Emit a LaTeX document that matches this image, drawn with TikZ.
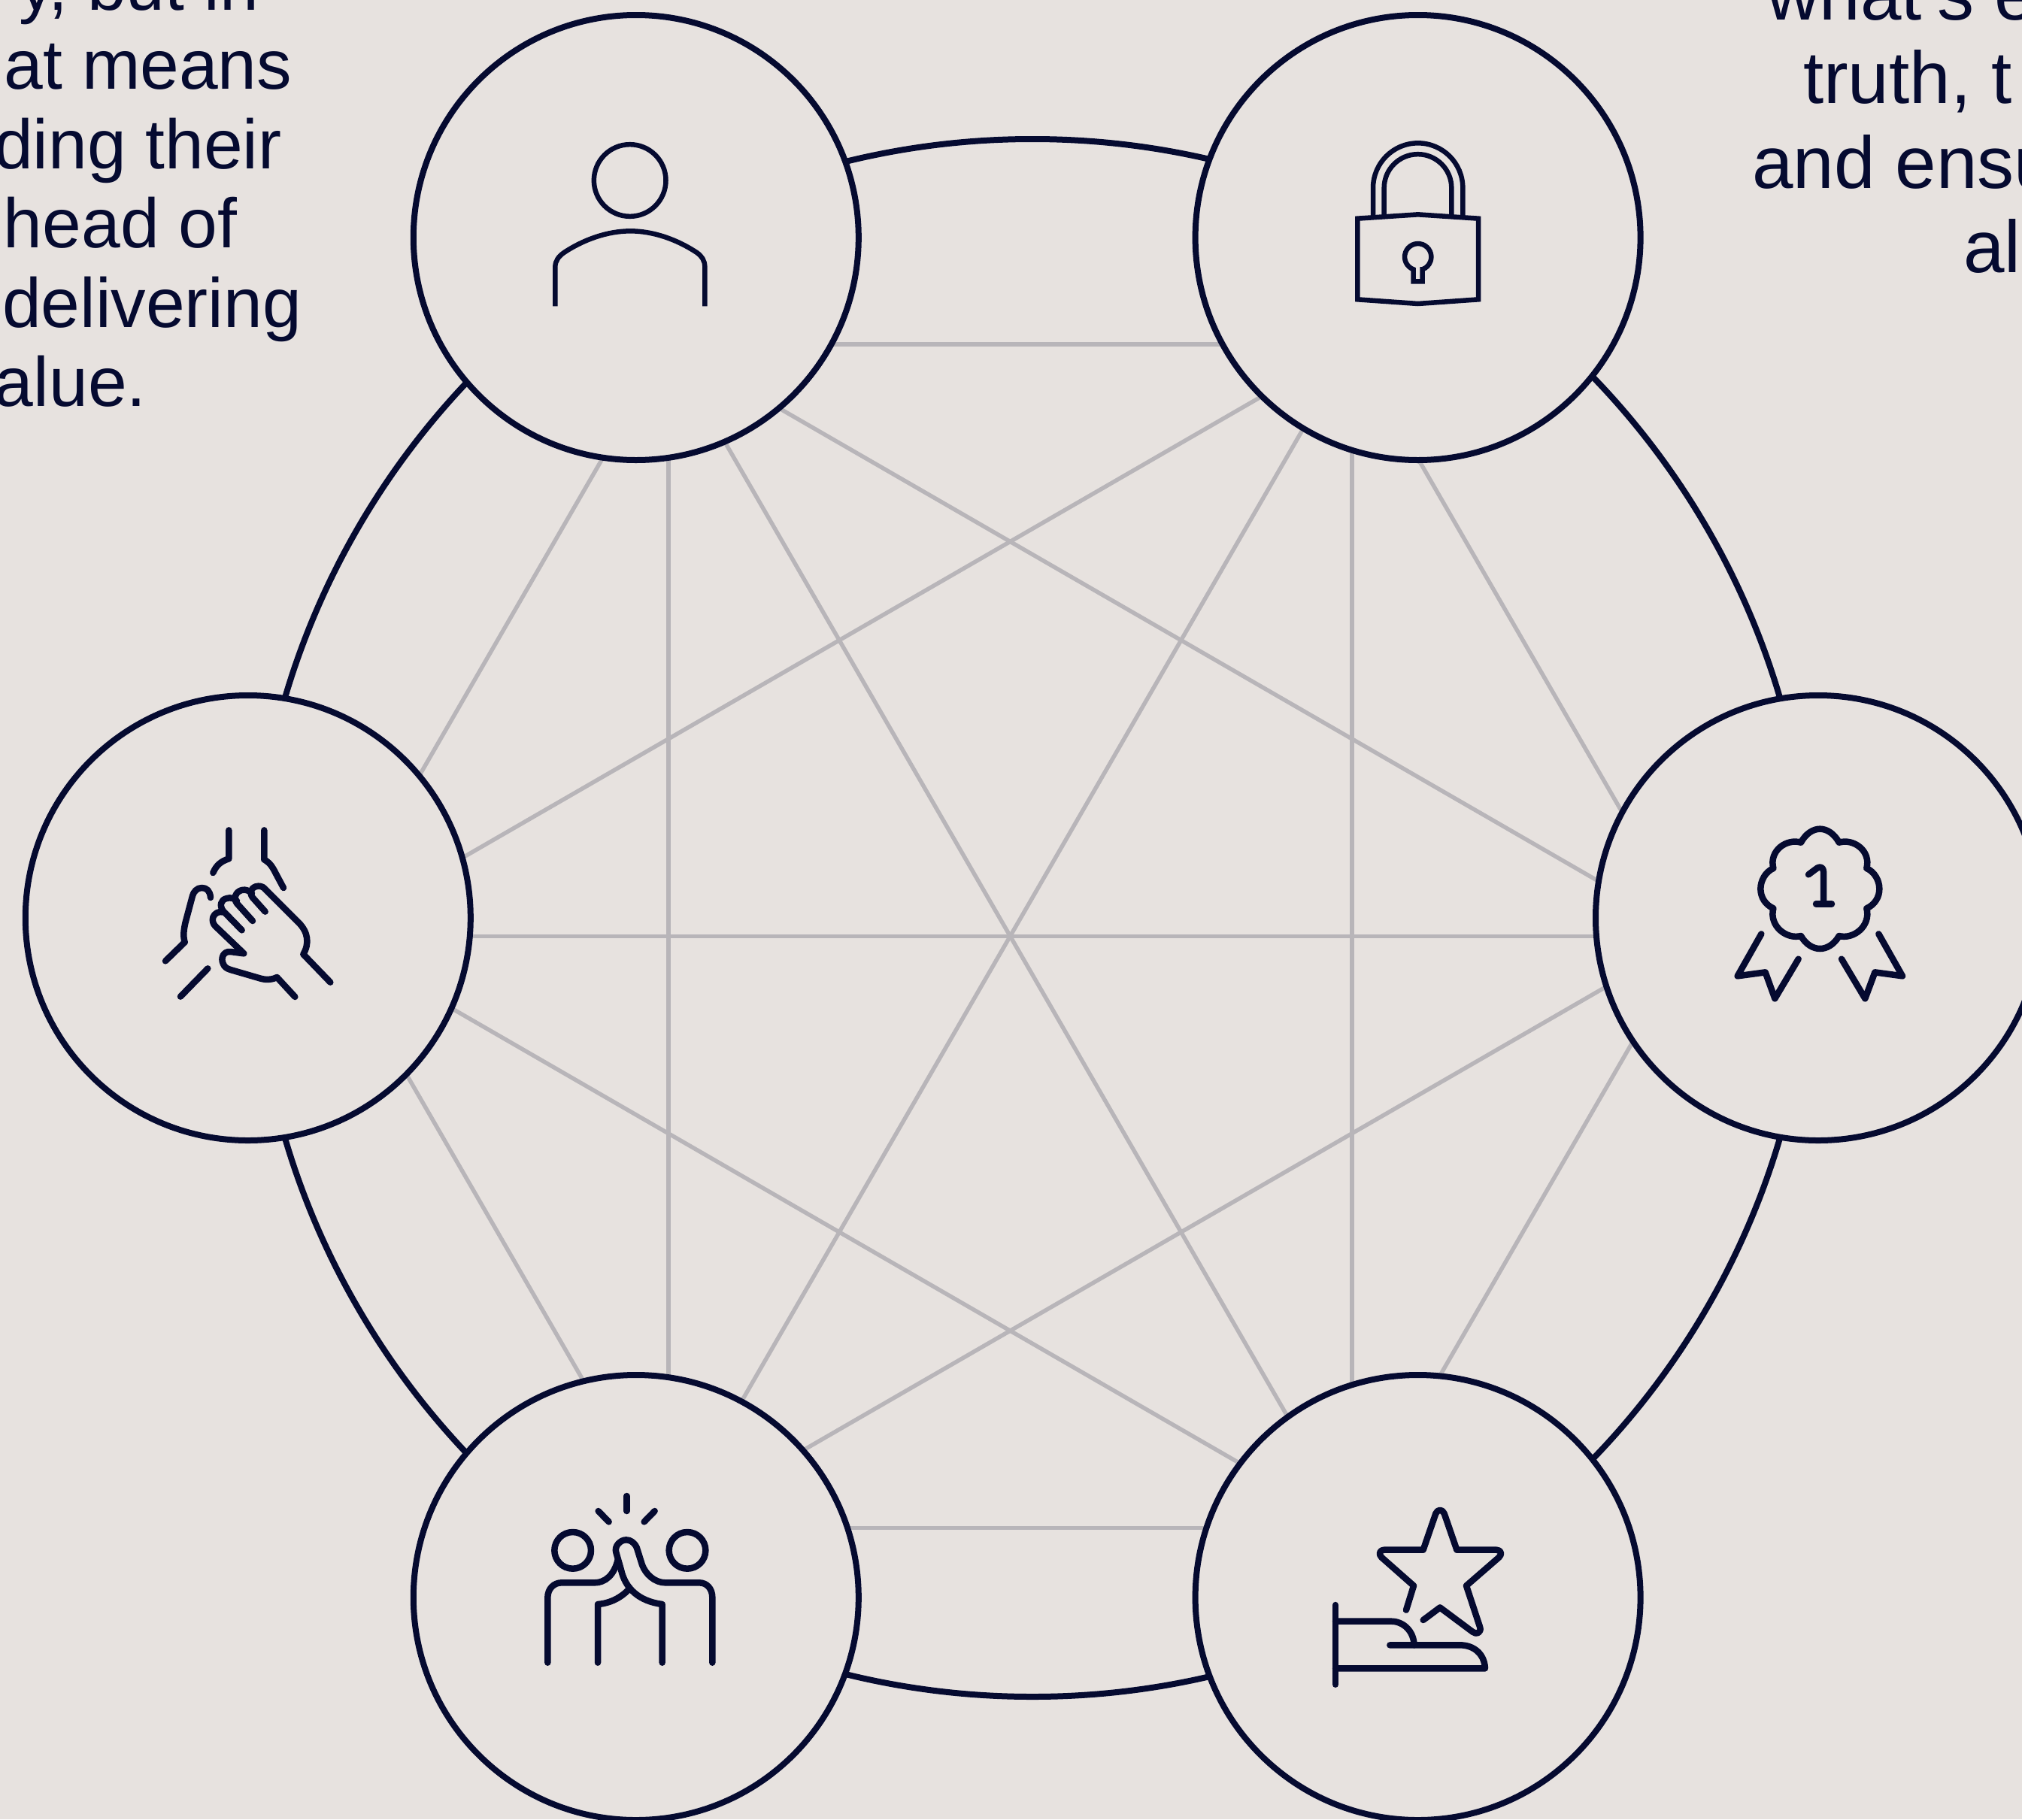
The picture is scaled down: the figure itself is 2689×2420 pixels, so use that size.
\documentclass[tikz,border=0pt]{standalone}
\usepackage{fontspec}
\usetikzlibrary{calc}
\setmainfont{Liberation Sans}
\definecolor{bgc}{HTML}{E7E2DF}
\definecolor{navy}{HTML}{050A30}
\definecolor{greyl}{HTML}{B8B5B9}
\tikzset{
  hub/.style={circle,draw=navy,fill=bgc,line width=8pt,minimum size=592pt,inner sep=0pt,outer sep=0pt},
  ringc/.style={circle,draw=navy,line width=8pt,minimum size=2072pt,inner sep=0pt,outer sep=0pt},
  link/.style={draw=greyl,line width=5.5pt},
  leftt/.style={anchor=base west,inner sep=0pt,outer sep=0pt,text=navy,font=\fontsize{93}{105}\selectfont},
  rightt/.style={anchor=base west,inner sep=0pt,outer sep=0pt,text=navy,font=\fontsize{98}{112}\selectfont},
  thin icon/.style={draw=navy,line width=6.5pt},
  bold icon/.style={draw=navy,line width=8.5pt,line cap=round,line join=round},
}
\begin{document}
\begin{tikzpicture}[x=1pt,y=-1pt]
\useasboundingbox (0,0) rectangle (2689,2420);
\fill[bgc] (0,0) rectangle (2689,2420);
\clip (0,0) rectangle (2689,2420);
% text
\node[leftt] (l1) at (25,13.5) {y, but in};
\node[leftt] (l2) at (-46,118.6) {hat means};
\node[leftt] (l3) at (-8,224) {ding their};
\node[leftt] (l4) at (5,329) {head of};
\node[leftt] (l5) at (3,435) {delivering};
\node[leftt] (l6) at (-7,540.7) {alue.};
\node[rightt] (r1) at (2349,26) {what's e};
\node[rightt] (r2) at (2398,137.5) {truth, t};
\node[rightt] (r3) at (2330,250) {and ensu};
\node[rightt] (r4) at (2611,362) {al};
% ring
\node[ringc] (ring) at (1373,1221) {};
% network
\coordinate (mid) at (1343.4,1245.3);
\coordinate (g1) at ($(mid)+(-454.5,-787.3)$);
\coordinate (g2) at ($(mid)+(454.5,-787.3)$);
\coordinate (g3) at ($(mid)+(909,0)$);
\coordinate (g4) at ($(mid)+(454.5,787.3)$);
\coordinate (g5) at ($(mid)+(-454.5,787.3)$);
\coordinate (g6) at ($(mid)+(-909,0)$);
\foreach \a/\b in {g1/g2,g1/g3,g1/g4,g1/g5,g1/g6,g2/g3,g2/g4,g2/g5,g2/g6,g3/g4,g3/g5,g3/g6,g4/g5,g4/g6,g5/g6}
  \draw[link] (\a) -- (\b);
% hubs
\node[hub] (tl) at (845.8,316) {};
\node[hub] (tr) at (1885.6,316) {};
\node[hub] (le) at (329.8,1221) {};
\node[hub] (ri) at (2418,1221) {};
\node[hub] (bl) at (845.8,2125) {};
\node[hub] (br) at (1885.6,2125) {};
% person
\begin{scope}[shift={(680,150)},scale=1/3]
\draw[thin icon] (473,270) circle[radius=143.5];
\draw[thin icon] (175,772) -- (175,615) .. controls (175,590) and (190,572) .. (210,558) .. controls (290,505) and (385,472) .. (475,472) .. controls (565,472) and (660,505) .. (740,558) .. controls (760,572) and (772,590) .. (772,615) -- (772,772);
\end{scope}
% lock
\begin{scope}[shift={(1760,160)},scale=1/3]
\draw[thin icon] (136,392) -- (377,376) -- (618,392) -- (618,715) -- (377,732) -- (136,715) -- cycle;
\draw[thin icon] (198,380) -- (198,270) arc[start angle=180,end angle=360,radius=179] -- (556,380);
\draw[thin icon] (242,378) -- (242,270) arc[start angle=180,end angle=360,radius=134.5] -- (511,378);
\draw[thin icon] (395,595) -- (395,643) -- (359,643) -- (359,595) arc[start angle=110,end angle=430,radius=53] -- cycle;
\end{scope}
% medal
\begin{scope}[shift={(2280,1080)},scale=1/3]
\draw[bold icon] (345,122) .. controls (365,85) and (395,68) .. (421,68) .. controls (447,68) and (477,85) .. (497,122)
 .. controls (555,105) and (625,155) .. (607,225)
 .. controls (640,240) and (658,275) .. (658,307) .. controls (658,340) and (640,370) .. (607,385)
 .. controls (625,455) and (555,510) .. (497,495)
 .. controls (477,530) and (447,546) .. (421,546) .. controls (395,546) and (365,530) .. (345,495)
 .. controls (287,510) and (217,455) .. (235,385)
 .. controls (202,370) and (184,340) .. (184,307) .. controls (184,275) and (202,240) .. (235,225)
 .. controls (217,155) and (287,105) .. (345,122) -- cycle;
\draw[bold icon] (375,250) -- (410,224) .. controls (422,216) and (435,222) .. (435,238) -- (435,367);
\draw[bold icon] (405,367) -- (468,367);
\draw[bold icon] (187,487) -- (92,655) -- (203,640) -- (241,745) -- (335,587);
\draw[bold icon] (655,487) -- (750,655) -- (640,640) -- (601,745) -- (507,587);
\end{scope}
% hands
\begin{scope}[shift={(200,1080)},scale=1/3]
\draw[bold icon] (313,73) -- (313,187) .. controls (280,197) and (262,215) .. (250,243);
\draw[bold icon] (454,73) -- (454,190) .. controls (480,205) and (490,225) .. (500,245) -- (531,303);
\draw[bold icon] (240,342) .. controls (238,315) and (225,303) .. (205,303) .. controls (185,303) and (172,320) .. (168,335) -- (140,440) .. controls (133,470) and (130,495) .. (137,520) -- (60,595);
\draw[bold icon] (229,625) -- (120,737);
\draw[bold icon] (718,680) -- (610,568) .. controls (635,525) and (630,480) .. (590,440) -- (455,305) .. controls (448,298) and (435,293) .. (420,298) .. controls (400,305) and (395,325) .. (408,342) -- (458,398);
\draw[bold icon] (405,325) .. controls (395,315) and (380,308) .. (365,312) .. controls (340,318) and (330,345) .. (345,365) -- (408,435);
\draw[bold icon] (345,355) .. controls (335,345) and (320,340) .. (305,345) .. controls (280,350) and (275,375) .. (290,395) -- (365,472);
\draw[bold icon] (287,400) .. controls (275,395) and (255,405) .. (250,420) .. controls (246,435) and (250,445) .. (258,455) -- (373,565) -- (320,558) .. controls (290,555) and (280,585) .. (290,605) .. controls (295,620) and (305,625) .. (320,630) -- (440,665) .. controls (465,672) and (490,668) .. (505,660) -- (577,738);
\end{scope}
% high five
\begin{scope}[shift={(700,1970)},scale=1/3]
\draw[bold icon] (400,60) -- (400,120);
\draw[bold icon] (287,120) -- (329,163);
\draw[bold icon] (512,120) -- (470,163);
\draw[bold icon] (185,277) circle[radius=73];
\draw[bold icon] (642,277) circle[radius=73];
\draw[bold icon] (85,725) -- (85,465) .. controls (85,430) and (110,406) .. (140,406) -- (272,406) .. controls (315,406) and (350,375) .. (365,315);
\draw[bold icon] (742,725) -- (742,465) .. controls (742,430) and (720,406) .. (690,406) -- (555,406) .. controls (510,406) and (475,370) .. (462,335) -- (440,265) .. controls (430,245) and (415,235) .. (398,235) .. controls (375,235) and (350,260) .. (358,285) -- (378,355) .. controls (395,430) and (450,480) .. (542,492) -- (542,725);
\draw[bold icon] (285,725) -- (285,492) .. controls (335,488) and (380,465) .. (413,428);
\end{scope}
% star in hand
\begin{scope}[shift={(1750,1980)},scale=1/3]
\draw[bold icon] (360,485) -- (390,388) -- (262,275) .. controls (248,262) and (255,245) .. (272,245) -- (428,245) -- (478,100) .. controls (485,82) and (505,82) .. (512,100) -- (562,245) -- (720,245) .. controls (738,245) and (745,262) .. (730,275) -- (600,388) -- (655,555) .. controls (660,575) and (640,585) .. (625,572) -- (495,475) -- (428,525);
\draw[bold icon] (78,465) -- (78,782);
\draw[bold icon] (78,530) -- (300,530) .. controls (350,530) and (390,570) .. (392,625);
\draw[bold icon] (295,625) -- (575,625) .. controls (630,625) and (672,660) .. (675,718) -- (78,718);
\end{scope}
\end{tikzpicture}
\end{document}
